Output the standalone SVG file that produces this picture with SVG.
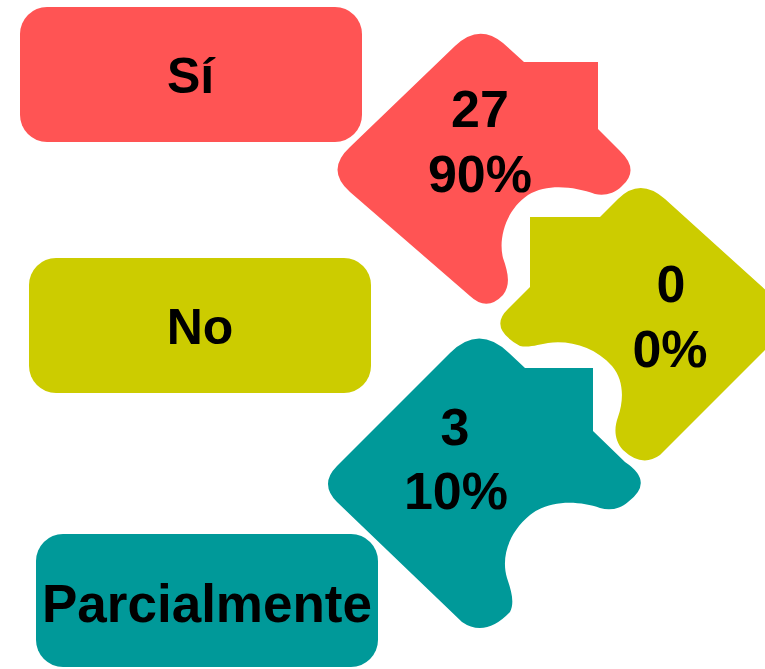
<svg xmlns="http://www.w3.org/2000/svg" width="765" height="669" viewBox="0 0 765 669">
<style>
.red{fill:#FF5454}
.yel{fill:#CCCC00}
.teal{fill:#009999}
.t{font-family:"Liberation Sans",Arial,sans-serif;font-weight:bold;fill:#000;text-anchor:middle}
.lbl{font-size:50px}
.val{font-size:52px}
</style>
<rect x="0" y="0" width="765" height="669" fill="#FFFFFF"/>
<g id="label-si">
<rect class="red" x="20" y="7" width="342" height="135" rx="27" ry="27"/>
<text class="t lbl" x="190.5" y="93">Sí</text>
</g>
<g id="label-no">
<rect class="yel" x="29" y="258" width="342" height="135" rx="27" ry="27"/>
<text class="t lbl" x="200" y="344">No</text>
</g>
<g id="label-parcialmente">
<rect class="teal" x="36" y="534" width="342" height="133" rx="27" ry="27"/>
<text class="t" style="font-size:53px" x="207" y="622">Parcialmente</text>
</g>
<g id="piece-si">
<path class="red" d="M 524,62 L 598,62 L 598,129 L 620,151 Q 640,170 622,186 C 614,194 604,196 595,194 C 575,187 548,183 528,195 C 506,210 498,238 503,258 C 508,272 511,285 503,295 Q 487,312 470,296 L 350,192 Q 325,170 350,147 L 455,46 Q 479,23 503,43 Z"/>
<text class="t val" x="480" y="127">27</text>
<text class="t val" x="480" y="192">90%</text>
</g>
<g id="piece-no">
<path class="yel" d="M 600,217 L 618,199 Q 640,177 665,199 L 780,303 Q 796,319 780,335 L 660,455 Q 642,468 623,450 C 614,440 614,428 618,417 C 624,400 624,380 612,366 C 595,347 570,340 548,343 C 540,344 530,348 520,346 Q 488,328 508,309 L 530,287 L 530,217 Z"/>
<text class="t val" x="671" y="302">0</text>
<text class="t val" x="670" y="367">0%</text>
</g>
<g id="piece-parcialmente">
<path class="teal" d="M 525,368 L 593,368 L 593,431 L 625,462 Q 655,482 628,502 C 620,509 610,511 600,508 C 580,501 550,499 530,515 C 508,533 501,558 507,578 C 511,590 515,602 510,612 Q 485,638 462,622 L 337,502 Q 319,484 337,466 L 450,353 Q 479,324 509,353 Z"/>
<text class="t val" x="455" y="445">3</text>
<text class="t val" x="456" y="509">10%</text>
</g>
</svg>
